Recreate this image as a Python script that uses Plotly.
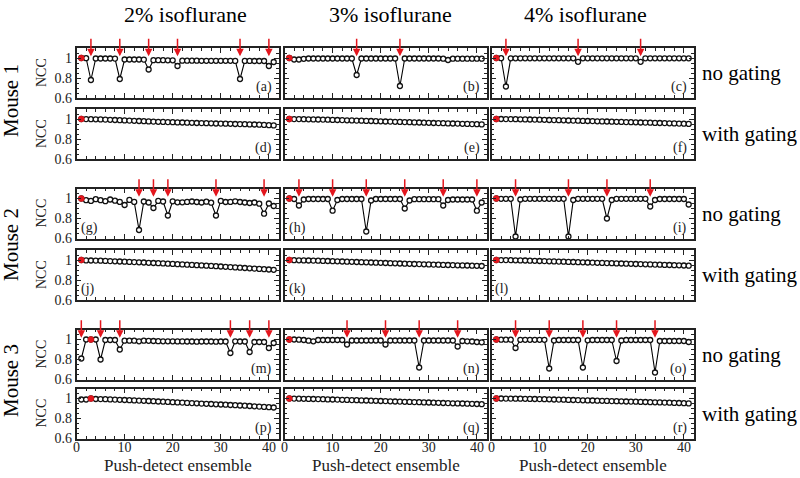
import plotly.graph_objects as go

# ---------------- data ----------------
ENSEMBLE = list(range(1, 42))
ISO_LABELS = ["2% isoflurane", "3% isoflurane", "4% isoflurane"]
MOUSE_LABELS = ["Mouse 1", "Mouse 2", "Mouse 3"]
GATING_LABELS = ["no gating", "with gating"]
X_TITLE = "Push-detect ensemble"

# Mouse 1, no gating
NCC_A = [1.000, 0.998, 0.780, 0.995, 0.995, 0.995, 0.995, 0.994, 0.790, 0.985,
         0.985, 0.985, 0.985, 0.984, 0.885, 0.978, 0.978, 0.978, 0.977, 0.977,
         0.920, 0.973, 0.973, 0.973, 0.973, 0.972, 0.972, 0.972, 0.972, 0.972,
         0.972, 0.972, 0.971, 0.790, 0.971, 0.971, 0.970, 0.970, 0.970, 0.920,
         0.960]
NCC_B = [1.000, 0.985, 0.985, 0.992, 0.995, 0.995, 0.995, 0.995, 0.995, 0.995,
         0.995, 0.995, 0.995, 0.995, 0.830, 0.995, 0.995, 0.995, 0.995, 0.995,
         0.995, 0.995, 0.995, 0.720, 0.995, 0.995, 0.995, 0.995, 0.995, 0.995,
         0.995, 0.995, 0.993, 0.980, 0.993, 0.993, 0.993, 0.993, 0.993, 0.993,
         0.993]
NCC_C = [1.000, 0.998, 0.715, 0.997, 0.997, 0.997, 0.997, 0.997, 0.997, 0.997,
         0.997, 0.997, 0.997, 0.997, 0.997, 0.997, 0.997, 0.962, 0.997, 0.997,
         0.997, 0.997, 0.997, 0.997, 0.997, 0.997, 0.997, 0.997, 0.997, 0.997,
         0.962, 0.997, 0.997, 0.997, 0.997, 0.997, 0.997, 0.997, 0.997, 0.997,
         0.997]
# Mouse 1, with gating
NCC_D = [1.000, 0.999, 0.998, 0.997, 0.996, 0.994, 0.992, 0.990, 0.988, 0.986,
         0.984, 0.982, 0.980, 0.978, 0.976, 0.974, 0.972, 0.971, 0.969, 0.968,
         0.966, 0.965, 0.963, 0.962, 0.960, 0.959, 0.958, 0.957, 0.955, 0.954,
         0.953, 0.952, 0.950, 0.949, 0.948, 0.946, 0.945, 0.943, 0.941, 0.938,
         0.936]
NCC_E = [1.000, 0.999, 0.999, 0.998, 0.997, 0.996, 0.995, 0.994, 0.993, 0.991,
         0.990, 0.989, 0.987, 0.986, 0.984, 0.983, 0.981, 0.980, 0.978, 0.977,
         0.975, 0.974, 0.972, 0.971, 0.969, 0.968, 0.966, 0.965, 0.963, 0.962,
         0.960, 0.959, 0.958, 0.956, 0.955, 0.954, 0.952, 0.951, 0.949, 0.948,
         0.946]
NCC_F = [1.000, 1.000, 0.999, 0.999, 0.998, 0.997, 0.996, 0.995, 0.994, 0.993,
         0.992, 0.990, 0.989, 0.988, 0.987, 0.985, 0.984, 0.983, 0.981, 0.980,
         0.979, 0.977, 0.976, 0.975, 0.973, 0.972, 0.971, 0.969, 0.968, 0.967,
         0.965, 0.964, 0.963, 0.961, 0.960, 0.959, 0.957, 0.956, 0.954, 0.953,
         0.951]
# Mouse 2, no gating
NCC_G = [1.000, 0.983, 0.976, 0.993, 0.983, 0.973, 0.990, 0.978, 0.966, 0.935,
         0.986, 0.966, 0.685, 0.970, 0.960, 0.905, 0.976, 0.970, 0.830, 0.972,
         0.962, 0.962, 0.966, 0.970, 0.965, 0.960, 0.968, 0.958, 0.830, 0.976,
         0.965, 0.966, 0.972, 0.965, 0.960, 0.955, 0.960, 0.948, 0.848, 0.950,
         0.925]
NCC_H = [1.000, 0.995, 0.930, 0.990, 0.995, 0.995, 0.995, 0.995, 0.995, 0.878,
         0.985, 0.995, 0.995, 0.995, 0.995, 0.995, 0.670, 0.980, 0.995, 0.995,
         0.995, 0.995, 0.995, 0.995, 0.900, 0.980, 0.993, 0.993, 0.993, 0.993,
         0.993, 0.993, 0.930, 0.985, 0.990, 0.990, 0.990, 0.990, 0.990, 0.878,
         0.960]
NCC_I = [1.000, 0.997, 0.997, 0.997, 0.620, 0.990, 0.997, 0.997, 0.997, 0.997,
         0.997, 0.997, 0.997, 0.997, 0.997, 0.620, 0.985, 0.997, 0.997, 0.997,
         0.997, 0.997, 0.997, 0.800, 0.985, 0.997, 0.997, 0.997, 0.997, 0.997,
         0.997, 0.997, 0.920, 0.985, 0.995, 0.995, 0.995, 0.995, 0.995, 0.995,
         0.940]
# Mouse 2, with gating
NCC_J = [1.000, 0.996, 0.995, 0.994, 0.993, 0.991, 0.989, 0.987, 0.985, 0.983,
         0.981, 0.979, 0.977, 0.975, 0.972, 0.970, 0.968, 0.966, 0.963, 0.961,
         0.958, 0.956, 0.953, 0.951, 0.948, 0.946, 0.943, 0.941, 0.938, 0.935,
         0.932, 0.929, 0.926, 0.923, 0.920, 0.917, 0.914, 0.911, 0.908, 0.905,
         0.902]
NCC_K = [1.000, 0.998, 0.997, 0.996, 0.995, 0.994, 0.993, 0.991, 0.990, 0.988,
         0.987, 0.985, 0.983, 0.982, 0.980, 0.978, 0.977, 0.975, 0.973, 0.972,
         0.970, 0.968, 0.967, 0.965, 0.963, 0.962, 0.960, 0.959, 0.957, 0.956,
         0.954, 0.953, 0.951, 0.950, 0.949, 0.947, 0.946, 0.945, 0.943, 0.942,
         0.940]
NCC_L = [1.000, 0.999, 0.999, 0.998, 0.997, 0.996, 0.995, 0.993, 0.992, 0.990,
         0.989, 0.987, 0.986, 0.984, 0.983, 0.981, 0.980, 0.978, 0.977, 0.975,
         0.974, 0.972, 0.971, 0.969, 0.968, 0.966, 0.965, 0.963, 0.962, 0.960,
         0.959, 0.957, 0.956, 0.954, 0.953, 0.951, 0.950, 0.948, 0.947, 0.945,
         0.943]
# Mouse 3, no gating
NCC_M = [0.810, 1.000, 1.000, 1.000, 0.800, 0.995, 0.995, 0.995, 0.900, 0.988,
         0.988, 0.988, 0.982, 0.988, 0.987, 0.985, 0.983, 0.982, 0.982, 0.982,
         0.981, 0.981, 0.980, 0.980, 0.978, 0.980, 0.980, 0.980, 0.978, 0.980,
         0.980, 0.865, 0.982, 0.980, 0.980, 0.875, 0.975, 0.975, 0.975, 0.915,
         0.965]
NCC_N = [1.000, 1.000, 0.998, 0.995, 0.988, 0.982, 0.995, 0.995, 0.995, 0.995,
         0.995, 0.995, 0.950, 0.990, 0.990, 0.990, 0.990, 0.990, 0.990, 0.990,
         0.950, 0.990, 0.990, 0.990, 0.990, 0.990, 0.990, 0.720, 0.990, 0.990,
         0.990, 0.990, 0.990, 0.990, 0.990, 0.930, 0.985, 0.982, 0.980, 0.975,
         0.972]
NCC_O = [1.000, 0.998, 0.998, 0.998, 0.915, 0.997, 0.997, 0.997, 0.997, 0.997,
         0.997, 0.710, 0.990, 0.995, 0.995, 0.995, 0.995, 0.995, 0.720, 0.992,
         0.995, 0.995, 0.995, 0.995, 0.995, 0.785, 0.990, 0.995, 0.995, 0.995,
         0.995, 0.995, 0.995, 0.670, 0.985, 0.985, 0.985, 0.985, 0.985, 0.985,
         0.975]
# Mouse 3, with gating
NCC_P = [0.990, 0.990, 1.000, 0.995, 0.994, 0.993, 0.991, 0.989, 0.987, 0.985,
         0.983, 0.981, 0.979, 0.977, 0.975, 0.973, 0.970, 0.968, 0.966, 0.963,
         0.961, 0.959, 0.956, 0.954, 0.952, 0.949, 0.947, 0.945, 0.942, 0.940,
         0.938, 0.935, 0.933, 0.930, 0.928, 0.925, 0.922, 0.919, 0.916, 0.913,
         0.910]
NCC_Q = [1.000, 0.999, 0.998, 0.997, 0.996, 0.995, 0.994, 0.993, 0.991, 0.990,
         0.989, 0.987, 0.986, 0.984, 0.983, 0.981, 0.980, 0.978, 0.977, 0.975,
         0.974, 0.972, 0.970, 0.969, 0.967, 0.966, 0.964, 0.963, 0.961, 0.960,
         0.958, 0.957, 0.955, 0.954, 0.952, 0.951, 0.950, 0.948, 0.947, 0.945,
         0.943]
NCC_R = [1.000, 1.000, 0.999, 0.999, 0.998, 0.998, 0.997, 0.996, 0.995, 0.994,
         0.993, 0.992, 0.990, 0.989, 0.988, 0.986, 0.985, 0.984, 0.982, 0.981,
         0.980, 0.978, 0.977, 0.976, 0.974, 0.973, 0.972, 0.970, 0.969, 0.968,
         0.966, 0.965, 0.963, 0.962, 0.961, 0.959, 0.958, 0.956, 0.955, 0.953,
         0.951]

# ensembles marked by red arrows (motion-corrupted)
ARROWS_A = [3, 9, 15, 21, 34, 40]
ARROWS_B = [15, 24]
ARROWS_C = [3, 18, 31]
ARROWS_G = [13, 16, 19, 29, 39]
ARROWS_H = [3, 10, 17, 25, 33, 40]
ARROWS_I = [5, 16, 24, 33]
ARROWS_M = [1, 5, 9, 32, 36, 40]
ARROWS_N = [13, 21, 28, 36]
ARROWS_O = [5, 12, 19, 26, 34]

# reference ensemble (red marker)
REF_DEFAULT = 1
REF_MOUSE3_2 = 3

# (values, arrows, reference ensemble, panel label, label corner)
PANELS = [
    (NCC_A, ARROWS_A, REF_DEFAULT, "(a)", "br"),
    (NCC_B, ARROWS_B, REF_DEFAULT, "(b)", "br"),
    (NCC_C, ARROWS_C, REF_DEFAULT, "(c)", "br"),
    (NCC_D, [], REF_DEFAULT, "(d)", "br"),
    (NCC_E, [], REF_DEFAULT, "(e)", "br"),
    (NCC_F, [], REF_DEFAULT, "(f)", "br"),
    (NCC_G, ARROWS_G, REF_DEFAULT, "(g)", "bl"),
    (NCC_H, ARROWS_H, REF_DEFAULT, "(h)", "bl"),
    (NCC_I, ARROWS_I, REF_DEFAULT, "(i)", "br"),
    (NCC_J, [], REF_DEFAULT, "(j)", "bl"),
    (NCC_K, [], REF_DEFAULT, "(k)", "bl"),
    (NCC_L, [], REF_DEFAULT, "(l)", "bl"),
    (NCC_M, ARROWS_M, REF_MOUSE3_2, "(m)", "br"),
    (NCC_N, ARROWS_N, REF_DEFAULT, "(n)", "br"),
    (NCC_O, ARROWS_O, REF_DEFAULT, "(o)", "br"),
    (NCC_P, [], REF_MOUSE3_2, "(p)", "br"),
    (NCC_Q, [], REF_DEFAULT, "(q)", "br"),
    (NCC_R, [], REF_DEFAULT, "(r)", "br"),
]

# ---------------- layout (pixels) ----------------
W, H = 800, 478
COL_LEFT = [76.5, 284.5, 491.5]
COL_W = 202
ROW_BOTTOM = [98, 159, 238.5, 300, 379.5, 438.5]
ROW_H = 50
FONT = "Liberation Serif, Times New Roman, serif"
INK = "#222222"
RED = "#e3161d"


def px(x):
    return x / W


def py(y):
    return 1 - y / H


fig = go.Figure()
annotations = []
layout = {}

for k, (vals, arrows, ref, label, corner) in enumerate(PANELS):
    r, c = divmod(k, 3)
    n = k + 1
    xs = "" if n == 1 else str(n)
    xref, yref = "x" + xs, "y" + xs
    left = COL_LEFT[c]
    bottom = ROW_BOTTOM[r]
    layout["xaxis" + xs] = dict(
        domain=[px(left), px(left + COL_W)], anchor=yref,
        range=[0, 42], tick0=0, dtick=10, ticks="inside", ticklen=5,
        tickwidth=1, tickcolor=INK,
        minor=dict(dtick=2, tick0=0, ticks="inside", ticklen=3, tickcolor=INK, tickwidth=1),
        showline=True, linecolor=INK, linewidth=1.6, mirror="ticks",
        showgrid=False, zeroline=False, automargin=False,
        showticklabels=(r == 5), tickfont=dict(family=FONT, size=14, color=INK),
        ticklabelstandoff=-5,
        fixedrange=True,
    )
    layout["yaxis" + xs] = dict(
        domain=[py(bottom), py(bottom - ROW_H)], anchor=xref,
        range=[0.6, 1.1], tick0=0.6, dtick=0.2, ticks="inside", ticklen=5,
        tickwidth=1, tickcolor=INK,
        minor=dict(dtick=0.05, tick0=0.6, ticks="inside", ticklen=3, tickcolor=INK, tickwidth=1),
        showline=True, linecolor=INK, linewidth=1.6, mirror="ticks",
        showgrid=False, zeroline=False, automargin=False,
        showticklabels=(c == 0), tickfont=dict(family=FONT, size=14, color=INK),
        fixedrange=True,
    )
    fig.add_trace(go.Scatter(
        x=ENSEMBLE, y=vals, xaxis=xref, yaxis=yref, mode="lines+markers",
        line=dict(color="black", width=1.1),
        marker=dict(symbol="circle", size=5, color="white", line=dict(color="#111111", width=1.3)),
        showlegend=False, hoverinfo="skip", cliponaxis=False,
    ))
    fig.add_trace(go.Scatter(
        x=[ENSEMBLE[ref - 1]], y=[vals[ref - 1]], xaxis=xref, yaxis=yref, mode="markers",
        marker=dict(symbol="circle", size=6, color=RED, line=dict(color=RED, width=0.5)),
        showlegend=False, hoverinfo="skip", cliponaxis=False,
    ))
    for a in arrows:
        annotations.append(dict(
            x=a, y=1.018, xref=xref, yref=yref, text="", showarrow=True,
            ax=0, ay=-19, arrowhead=2, arrowsize=1.0, arrowwidth=1.5,
            arrowcolor=RED, standoff=0, startstandoff=0,
        ))
    # panel label
    if corner == "br":
        annotations.append(dict(
            x=px(left + COL_W - 5), y=py(bottom - 1), xref="paper", yref="paper",
            text=label, showarrow=False, xanchor="right", yanchor="bottom",
            font=dict(family=FONT, size=14, color=INK),
        ))
    else:
        annotations.append(dict(
            x=px(left + 2), y=py(bottom - 1), xref="paper", yref="paper",
            text=label, showarrow=False, xanchor="left", yanchor="bottom",
            font=dict(family=FONT, size=14, color=INK),
        ))
    # NCC label on left column
    if c == 0:
        annotations.append(dict(
            x=px(41), y=py(bottom - ROW_H / 2), xref="paper", yref="paper",
            text="NCC", showarrow=False, textangle=-90,
            xanchor="center", yanchor="middle",
            font=dict(family=FONT, size=14, color=INK),
        ))
    # gating labels on right
    if c == 2:
        annotations.append(dict(
            x=px(700), y=py(bottom - ROW_H / 2), xref="paper", yref="paper",
            text=GATING_LABELS[r % 2], showarrow=False,
            xanchor="left", yanchor="middle",
            font=dict(family=FONT, size=21, color="black"),
        ))

# column titles and x-axis titles
for c, (t, cx) in enumerate(zip(ISO_LABELS, [185, 390, 585])):
    annotations.append(dict(
        x=px(cx), y=py(14.5), xref="paper", yref="paper", text=t, showarrow=False,
        xanchor="center", yanchor="middle", borderpad=0,
        font=dict(family=FONT, size=22, color="black"),
    ))
    annotations.append(dict(
        x=px(COL_LEFT[c] + COL_W / 2), y=py(465.5), xref="paper", yref="paper",
        text=X_TITLE, showarrow=False, xanchor="center", yanchor="middle",
        font=dict(family=FONT, size=17, color=INK),
    ))

# mouse labels
for m, cy in enumerate([101, 245, 381]):
    annotations.append(dict(
        x=px(11), y=py(cy), xref="paper", yref="paper", text=MOUSE_LABELS[m],
        showarrow=False, textangle=-90, xanchor="center", yanchor="middle",
        font=dict(family=FONT, size=21, color="black"),
    ))

fig.update_layout(
    width=W, height=H, template="none",
    margin=dict(l=0, r=0, t=0, b=0, pad=0),
    paper_bgcolor="white", plot_bgcolor="white",
    showlegend=False, annotations=annotations, **layout,
)

fig.write_html(
    "out.html",
    config={"displayModeBar": False},
    post_script="document.body.style.margin='0';document.body.style.padding='0';",
)
